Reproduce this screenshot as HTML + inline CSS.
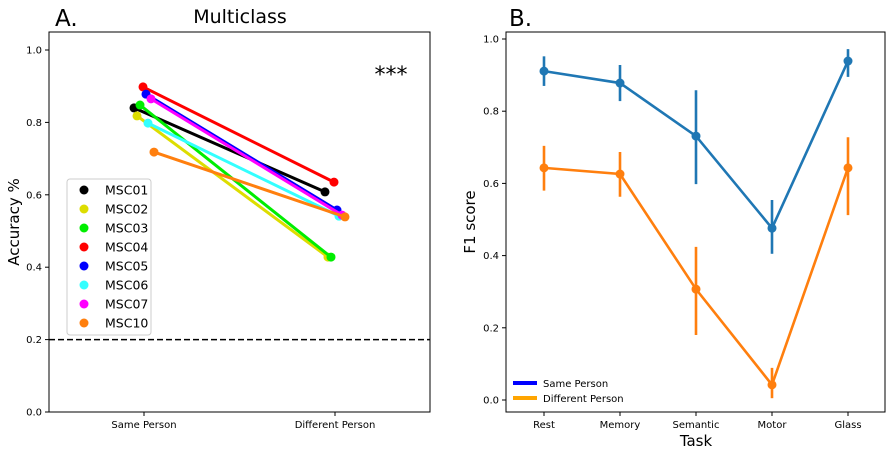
<!DOCTYPE html>
<html><head><meta charset="utf-8"><style>
body{margin:0;background:#fff;font-family:"Liberation Sans","DejaVu Sans",sans-serif}
svg text{font-family:"DejaVu Sans","Liberation Sans",sans-serif}
</style></head><body>
<svg id="c" width="893" height="456" viewBox="0 0 893 456" xmlns="http://www.w3.org/2000/svg"></svg>
<script>
const subjects=["MSC01","MSC02","MSC03","MSC04","MSC05","MSC06","MSC07","MSC10"];
const subjColors=["#000000","#dddd00","#00ee00","#ff0000","#0000ff","#33ffff","#ff00ff","#ff7f0e"];
const samePerson=[0.84,0.818,0.848,0.898,0.878,0.798,0.865,0.718];
const diffPerson=[0.608,0.428,0.428,0.635,0.558,0.541,0.544,0.539];
const leftCats=["Same Person","Different Person"];
const leftTicks=[0.0,0.2,0.4,0.6,0.8,1.0];
const tasks=["Rest","Memory","Semantic","Motor","Glass"];
const sameF1=[0.911,0.878,0.731,0.476,0.939];
const sameLo=[0.870,0.828,0.598,0.405,0.895];
const sameHi=[0.952,0.928,0.858,0.554,0.972];
const diffF1=[0.643,0.626,0.307,0.042,0.643];
const diffLo=[0.580,0.563,0.180,0.005,0.512];
const diffHi=[0.704,0.687,0.424,0.089,0.728];
const rightTicks=[0.0,0.2,0.4,0.6,0.8,1.0];
const NS="http://www.w3.org/2000/svg";
const svg=document.getElementById('c');
function mk(t,a,p){const e=document.createElementNS(NS,t);for(const k in a)e.setAttribute(k,a[k]);(p||svg).appendChild(e);return e;}
function tx(x,y,s,sz,anc,p){const e=mk('text',{x:x,y:y,'font-size':sz,'text-anchor':anc||'middle',fill:'#000'},p);e.textContent=s;return e;}
// LEFT
const L={x0:49,x1:430,y0:32,y1:412};
const ly=v=>412-v*362;
const lx=i=>[144,335][i];
const jit=[-10,-7,-4,-1,2,4,7,10];
let g=mk('g',{});
mk('line',{x1:49,x2:430,y1:ly(0.2),y2:ly(0.2),stroke:'#000','stroke-width':1.5,'stroke-dasharray':'6,3'},g);
subjects.forEach((s,i)=>{
  const sg=mk('g',{},g);
  const xa=lx(0)+jit[i],xb=lx(1)+jit[i];
  mk('line',{x1:xa,y1:ly(samePerson[i]),x2:xb,y2:ly(diffPerson[i]),stroke:subjColors[i],'stroke-width':3},sg);
  mk('circle',{cx:xa,cy:ly(samePerson[i]),r:4.5,fill:subjColors[i]},sg);
  mk('circle',{cx:xb,cy:ly(diffPerson[i]),r:4.5,fill:subjColors[i]},sg);
});
mk('rect',{x:49,y:32,width:381,height:380,fill:'none',stroke:'#000','stroke-width':1},g);
leftTicks.forEach(v=>{mk('line',{x1:45,x2:49,y1:ly(v),y2:ly(v),stroke:'#000'},g);tx(42,ly(v)+3.5,v.toFixed(1),10,'end',g);});
leftCats.forEach((c,i)=>{mk('line',{x1:lx(i),x2:lx(i),y1:412,y2:416,stroke:'#000'},g);tx(lx(i),428,c,10,'middle',g);});
let yt=tx(19,222,'Accuracy %',15,'middle',g);yt.setAttribute('transform','rotate(-90 19 222)');
let t1=tx(240,23,'Multiclass',19,'middle',g);
tx(55,26,'A.',23,'start',g);
tx(391,82,'***',22,'middle',g);
let lg=mk('g',{},g);
mk('rect',{x:67,y:179,width:84,height:156,rx:3,fill:'#fff',stroke:'#ccc'},lg);
subjects.forEach((s,i)=>{const y=190+i*19;mk('circle',{cx:84,cy:y,r:4.5,fill:subjColors[i]},lg);tx(105,y+4.5,s,12.5,'start',lg);});
// RIGHT
const rx=i=>544+i*76;
const ry=v=>400-v*361;
let r=mk('g',{});
function series(vals,lo,hi,col,name){
  const sg=mk('g',{},r);
  mk('polyline',{points:vals.map((v,i)=>rx(i)+','+ry(v)).join(' '),fill:'none',stroke:col,'stroke-width':2.6},sg);
  vals.forEach((v,i)=>{mk('line',{x1:rx(i),x2:rx(i),y1:ry(lo[i]),y2:ry(hi[i]),stroke:col,'stroke-width':2.6},sg);mk('circle',{cx:rx(i),cy:ry(v),r:4.5,fill:col},sg);});
}
series(sameF1,sameLo,sameHi,'#1f77b4','series-same-person');
series(diffF1,diffLo,diffHi,'#ff7f0e','series-different-person');
mk('rect',{x:506,y:32,width:379,height:380,fill:'none',stroke:'#000'},r);
rightTicks.forEach(v=>{mk('line',{x1:502,x2:506,y1:ry(v),y2:ry(v),stroke:'#000'},r);tx(499,ry(v)+3.5,v.toFixed(1),10,'end',r);});
tasks.forEach((c,i)=>{mk('line',{x1:rx(i),x2:rx(i),y1:412,y2:416,stroke:'#000'},r);tx(rx(i),428,c,10,'middle',r);});
let xt2=tx(696,446,'Task',15,'middle',r);
let yt2=tx(475,222,'F1 score',15,'middle',r);yt2.setAttribute('transform','rotate(-90 475 222)');
tx(509,26,'B.',23,'start',r);
let lg2=mk('g',{},r);
mk('line',{x1:513,x2:537,y1:383,y2:383,stroke:'#0000ff','stroke-width':4},lg2);tx(543,387,'Same Person',10,'start',lg2);
mk('line',{x1:513,x2:537,y1:398,y2:398,stroke:'#ffa500','stroke-width':4},lg2);tx(543,402,'Different Person',10,'start',lg2);
</script>
</body></html>
